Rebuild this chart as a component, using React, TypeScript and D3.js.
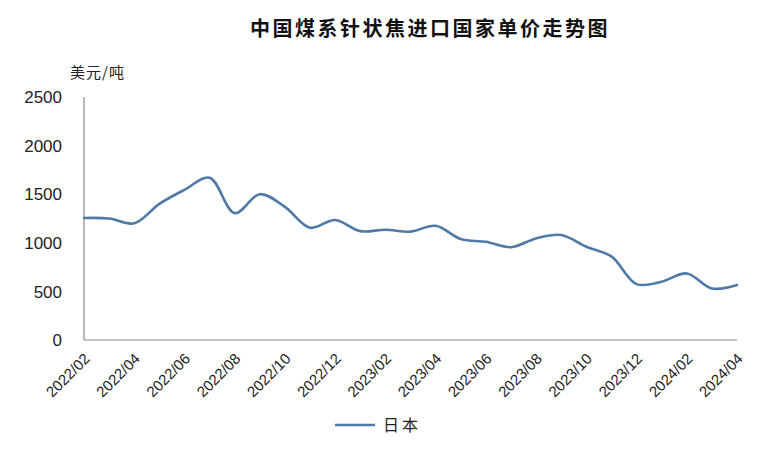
import React from "react";
import * as d3 from "d3";

const months: string[] = [
  "2022/02","2022/03","2022/04","2022/05","2022/06","2022/07","2022/08","2022/09","2022/10","2022/11","2022/12",
  "2023/01","2023/02","2023/03","2023/04","2023/05","2023/06","2023/07","2023/08","2023/09","2023/10","2023/11","2023/12",
  "2024/01","2024/02","2024/03","2024/04",
];
const japanValues: number[] = [
  1255, 1250, 1200, 1400, 1545, 1670, 1305, 1500, 1370, 1155, 1235,
  1120, 1135, 1115, 1175, 1040, 1010, 955, 1045, 1080, 960, 860, 575,
  600, 685, 530, 565,
];
const yTicks: number[] = [0, 500, 1000, 1500, 2000, 2500];
const seriesName = "日本";
const title = "中国煤系针状焦进口国家单价走势图";
const unitLabel = "美元/吨";

const W = 773;
const H = 455;
const left = 84;
const right = 737;
const top = 97;
const bottom = 340;
const lineColor = "#4f7aa8";

export default function App() {
  const x = d3.scalePoint<string>().domain(months).range([left, right]);
  const y = d3.scaleLinear().domain([0, 2500]).range([bottom, top]);
  const line = d3
    .line<number>()
    .x((_, i) => x(months[i]) as number)
    .y((d) => y(d))
    .curve(d3.curveCatmullRom.alpha(0.5));
  const labelMonths = months.filter((_, i) => i % 2 === 0);

  return (
    <svg
      width={W}
      height={H}
      style={{ position: "absolute", left: 0, top: 0, background: "#fff" }}
    >
      <rect width={W} height={H} fill="#fff" />
      <text
        x={430}
        y={36}
        textAnchor="middle"
        fontFamily="'Noto Sans CJK SC'"
        fontWeight={700}
        fontSize={20}
        letterSpacing={2.5}
        fill="#111"
      >
        {title}
      </text>
      <text
        x={70}
        y={78}
        fontFamily="'Noto Sans CJK SC'"
        fontSize={15}
        letterSpacing={1}
        fill="#222"
      >
        {unitLabel}
      </text>
      {yTicks.map((t) => (
        <text
          key={t}
          x={62}
          y={y(t)}
          dy="0.36em"
          textAnchor="end"
          fontFamily="'Liberation Sans', Arial, sans-serif"
          fontSize={17}
          fill="#222"
        >
          {t}
        </text>
      ))}
      <line x1={left} y1={top} x2={left} y2={bottom} stroke="#8a8a8a" strokeWidth={1.2} />
      <line x1={left} y1={bottom} x2={right} y2={bottom} stroke="#8a8a8a" strokeWidth={1.2} />
      {labelMonths.map((m) => (
        <text
          key={m}
          transform={`translate(${(x(m) as number) + 3},${bottom + 16}) rotate(-45)`}
          textAnchor="end"
          dy="0.35em"
          fontFamily="'Liberation Sans', Arial, sans-serif"
          fontSize={15}
          fill="#222"
        >
          {m}
        </text>
      ))}
      <path d={line(japanValues) ?? ""} fill="none" stroke={lineColor} strokeWidth={2.6} strokeLinecap="round" />
      <line x1={335} y1={425} x2={375} y2={425} stroke={lineColor} strokeWidth={2.6} />
      <text
        x={383}
        y={425}
        dy="0.36em"
        fontFamily="'Noto Sans CJK SC'"
        fontSize={16}
        letterSpacing={3}
        fill="#222"
      >
        {seriesName}
      </text>
    </svg>
  );
}
